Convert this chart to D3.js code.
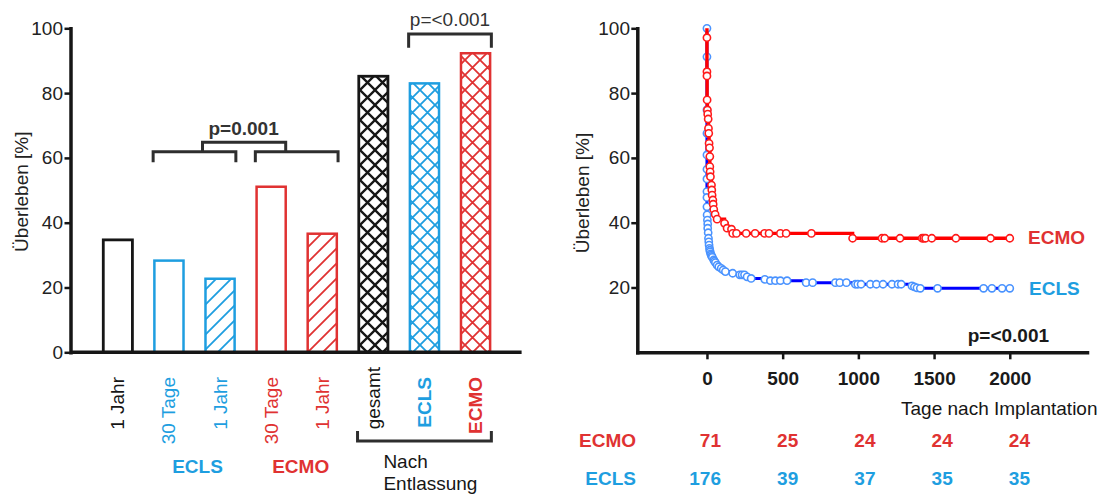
<!DOCTYPE html>
<html>
<head>
<meta charset="utf-8">
<script src="https://cdn.jsdelivr.net/npm/d3@7"></script>
<style>
  body { margin: 0; background: #fff; }
  svg { display: block; font-family: "Liberation Sans", Arial, Helvetica, sans-serif; }
</style>
</head>
<body>
<svg id="chart" width="1102" height="496"></svg>
<script>
/* ---------------------------------------------
 * DATA — left: survival bars, right: Kaplan-Meier
 * -------------------------------------------*/
const barLabels  = ['1 Jahr', '30 Tage', '1 Jahr', '30 Tage', '1 Jahr', 'gesamt', 'ECLS', 'ECMO'];
const barGroups  = ['all', 'ECLS', 'ECLS', 'ECMO', 'ECMO', 'all', 'ECLS', 'ECMO'];
const barPeriods = ['1 Jahr', '30 Tage', '1 Jahr', '30 Tage', '1 Jahr', 'Entlassung', 'Entlassung', 'Entlassung'];
const barValues  = [34.7, 28.3, 22.7, 51.1, 36.6, 85.2, 83.0, 92.3];
const yTicksLeft = [0, 20, 40, 60, 80, 100];

// [day, survival %]
const ecmoKM = [
  [0,97.1],[0,86.6],[0,85.3],[1,77.9],[3,74.8],[5,73.5],[8,72.0],[10,69.1],[12,67.6],[14,64.5],
  [17,63.1],[19,60.4],[19,57.3],[21,55.7],[23,54.2],[30,51.6],[32,50.1],[34,48.5],[39,47.0],
  [41,45.7],[45,44.1],[54,42.6],[67,41.1],[116,39.8],[133,38.3],[162,38.0],[170,36.7],[195,36.7],
  [259,36.7],[318,36.7],[380,36.7],[410,36.7],[485,36.7],[523,36.7],[690,36.7],[962,35.2],
  [1156,35.2],[1174,35.2],[1275,35.2],[1421,35.2],[1432,35.2],[1444,35.2],[1485,35.2],
  [1644,35.2],[1873,35.2],[2000,35.2]
];
const eclsKM = [
  [0,100],[0,91.2],[0,74.8],[0,67.6],[0,60.9],[0,56.5],[0,53.5],[0,49.6],[0,47.8],[0,44.9],
  [1,42.4],[3,40.8],[5,39.6],[5,38.3],[8,36.9],[10,35.2],[12,34.1],[14,33.1],[17,32.1],[19,31.5],
  [21,31.0],[25,30.4],[28,30.0],[32,29.6],[36,29.3],[45,28.5],[50,28.1],[56,27.7],[67,26.9],[78,26.4],
  [94,25.9],[107,25.4],[122,24.9],[170,24.4],[217,23.9],[232,23.9],[248,23.9],[265,23.3],[292,22.8],
  [382,22.5],[419,22.1],[452,22.1],[485,22.1],[529,22.1],[655,21.5],[698,21.5],[848,21.5],
  [877,21.5],[921,21.5],[980,21.0],[996,21.0],[1018,21.0],[1079,21.0],[1119,21.0],[1163,21.0],
  [1222,21.0],[1262,21.0],[1283,21.0],[1354,20.5],[1370,20.2],[1387,19.9],[1409,19.75],
  [1523,19.75],[1827,19.75],[1882,19.75],[1949,19.75],[2000,19.75]
];
const xTicksRight = [0, 500, 1000, 1500, 2000];
const yTicksRight = [20, 40, 60, 80, 100];
const riskTimes = [0, 500, 1000, 1500, 2000];
const riskECMO  = [71, 25, 24, 24, 24];
const riskECLS  = [176, 39, 37, 35, 35];

/* ---------------------------------------------
 * Setup
 * -------------------------------------------*/
const BLUE = '#1e9ee0', RED = '#e03232', INK = '#161616', GREY = '#2e2e2e';
const groupColor = { all: INK, ECLS: BLUE, ECMO: RED };
const FS = 19;

const svg = d3.select('#chart');
svg.append('rect').attr('width', 1102).attr('height', 496).attr('fill', '#fff');
const defs = svg.append('defs');

function makePattern(id, color, cross, w) {
  const p = defs.append('pattern').attr('id', id)
    .attr('patternUnits', 'userSpaceOnUse').attr('width', 15).attr('height', 15);
  p.append('rect').attr('width', 15).attr('height', 15).attr('fill', '#fff');
  p.append('path')
    .attr('d', cross ? 'M0,0L15,15M15,0L0,15' : 'M-2,2L2,-2M0,15L15,0M13,17L17,13')
    .attr('stroke', color).attr('stroke-width', w).attr('fill', 'none');
}
Object.entries(groupColor).forEach(([g, c]) => {
  makePattern('hatch-' + g, c, false, 1.8);
  makePattern('cross-' + g, c, true, g === 'all' ? 2.3 : 1.8);
});

function barFill(i) {
  const g = barGroups[i], p = barPeriods[i];
  if (p === 'Entlassung') return `url(#cross-${g})`;
  if (p === '1 Jahr' && g !== 'all') return `url(#hatch-${g})`;
  return '#fff';
}

/* ---------------------------------------------
 * Left panel — bars
 * -------------------------------------------*/
const yL = d3.scaleLinear().domain([0, 100]).range([352.3, 28.3]);
const xL = d3.scaleBand().domain(d3.range(barValues.length))
  .range([92.3, 501.1]).paddingInner(0.43).paddingOuter(0.215);
const bw = xL.bandwidth();
const cx = i => xL(i) + bw / 2;

svg.append('g').selectAll('rect').data(barValues).join('rect')
  .attr('x', (d, i) => xL(i))
  .attr('y', d => yL(d))
  .attr('width', bw)
  .attr('height', d => yL(0) - yL(d))
  .attr('fill', (d, i) => barFill(i))
  .attr('stroke', (d, i) => groupColor[barGroups[i]])
  .attr('stroke-width', (d, i) => barGroups[i] === 'all' ? 2.8 : 2.5);

const gyL = svg.append('g').attr('transform', 'translate(70.5,0)')
  .call(d3.axisLeft(yL).tickValues(yTicksLeft).tickSize(6).tickSizeOuter(0).tickPadding(1.5));
gyL.select('.domain').attr('stroke', INK).attr('stroke-width', 3.5).attr('stroke-linecap', 'square');
gyL.selectAll('.tick line').attr('stroke', INK).attr('stroke-width', 2.5);
gyL.selectAll('.tick text').attr('font-size', FS).attr('fill', '#222').attr('font-family', null);

svg.append('line').attr('x1', 70.5).attr('x2', 521.6).attr('y1', yL(0)).attr('y2', yL(0))
  .attr('stroke', INK).attr('stroke-width', 3.5);

svg.append('text').attr('transform', 'translate(28,191.7) rotate(-90)')
  .attr('text-anchor', 'middle').attr('font-size', FS).attr('fill', '#222')
  .text('Überleben [%]');

// rotated category labels
svg.append('g').selectAll('text').data(barLabels).join('text')
  .attr('transform', (d, i) => `translate(${cx(i) + 6.5},${i === 5 ? 367 : 377}) rotate(-90)`)
  .attr('text-anchor', 'end')
  .attr('font-size', FS)
  .attr('font-weight', (d, i) => i >= 6 ? 'bold' : null)
  .attr('fill', (d, i) => groupColor[barGroups[i]])
  .text(d => d);

// group labels
svg.append('text').attr('x', (cx(1) + cx(2)) / 2 + 3).attr('y', 473.3)
  .attr('text-anchor', 'middle').attr('font-size', FS).attr('font-weight', 'bold')
  .attr('fill', BLUE).text('ECLS');
svg.append('text').attr('x', (cx(3) + cx(4)) / 2 + 4).attr('y', 473.3)
  .attr('text-anchor', 'middle').attr('font-size', FS).attr('font-weight', 'bold')
  .attr('fill', RED).text('ECMO');

// brackets
const half = bw / 2 + 1.25;
function bracket(x1, x2, y, yLeg) {
  svg.append('path').attr('d', `M${x1},${yLeg}V${y}H${x2}V${yLeg}`)
    .attr('fill', 'none').attr('stroke', GREY).attr('stroke-width', 3);
}
bracket(cx(1) - half, cx(2) + half, 151.7, 162.3);
bracket(cx(3) - half, cx(4) + half, 151.7, 162.3);
bracket((cx(1) + cx(2)) / 2 + 8, (cx(3) + cx(4)) / 2 - 11, 142.3, 153);
svg.append('text').attr('x', ((cx(1) + cx(2)) / 2 + (cx(3) + cx(4)) / 2) / 2 - 2).attr('y', 135)
  .attr('text-anchor', 'middle').attr('font-size', FS).attr('font-weight', 'bold')
  .attr('fill', '#333').text('p=0.001');

bracket(cx(6) - half, cx(7) + half, 34, 47.7);
svg.append('text').attr('x', (cx(6) + cx(7)) / 2).attr('y', 26)
  .attr('text-anchor', 'middle').attr('font-size', FS).attr('fill', '#333').text('p=<0.001');

// "Nach Entlassung"
svg.append('path').attr('d', `M${cx(5) - half},431V441H${cx(7) + half}V431`)
  .attr('fill', 'none').attr('stroke', GREY).attr('stroke-width', 3);
svg.append('text').attr('x', 383.4).attr('y', 468.3).attr('font-size', FS).attr('fill', INK).text('Nach');
svg.append('text').attr('x', 383.4).attr('y', 490).attr('font-size', FS).attr('fill', INK).text('Entlassung');

/* ---------------------------------------------
 * Right panel — Kaplan-Meier
 * -------------------------------------------*/
const xR = d3.scaleLinear().domain([-460, 2510]).range([637.3, 1087]);
const yR = d3.scaleLinear().domain([0, 100]).range([352.3, 28.3]);

const gyR = svg.append('g').attr('transform', 'translate(637.3,0)')
  .call(d3.axisLeft(yR).tickValues(yTicksRight).tickSize(6).tickSizeOuter(0).tickPadding(1.3));
gyR.select('.domain').attr('stroke', INK).attr('stroke-width', 3.5).attr('stroke-linecap', 'square');
gyR.selectAll('.tick line').attr('stroke', INK).attr('stroke-width', 2.5);
gyR.selectAll('.tick text').attr('font-size', FS).attr('fill', '#222').attr('font-family', null);

const gxR = svg.append('g').attr('transform', `translate(0,${yR(0)})`)
  .call(d3.axisBottom(xR).tickValues(xTicksRight).tickFormat(d3.format('d'))
    .tickSize(7).tickSizeOuter(0).tickPadding(12));
gxR.select('.domain').attr('stroke', INK).attr('stroke-width', 3.5).attr('stroke-linecap', 'square');
gxR.selectAll('.tick line').attr('stroke', INK).attr('stroke-width', 2.5);
gxR.selectAll('.tick text').attr('font-size', FS).attr('font-weight', 'bold')
  .attr('fill', '#1a1a1a').attr('font-family', null);

svg.append('text').attr('transform', 'translate(589,193) rotate(-90)')
  .attr('text-anchor', 'middle').attr('font-size', FS).attr('fill', '#222')
  .text('Überleben [%]');

const line = d3.line().x(d => xR(d[0])).y(d => yR(d[1])).curve(d3.curveStepAfter);

function drawKM(data, lineColor, dotColor, lw) {
  const g = svg.append('g');
  g.append('path').datum([[0, 100]].concat(data))
    .attr('d', line).attr('fill', 'none').attr('stroke', lineColor).attr('stroke-width', lw);
  g.selectAll('circle').data(data).join('circle')
    .attr('cx', d => xR(d[0])).attr('cy', d => yR(d[1])).attr('r', 3.6)
    .attr('fill', '#fff').attr('stroke', dotColor).attr('stroke-width', 1.6);
}
drawKM(eclsKM, '#0000ff', '#4a93ff', 3);
drawKM(ecmoKM, '#ff0000', '#ff1a1a', 3.4);

svg.append('text').attr('x', 1028).attr('y', 244).attr('font-size', FS).attr('font-weight', 'bold')
  .attr('fill', RED).text('ECMO');
svg.append('text').attr('x', 1029).attr('y', 295).attr('font-size', FS).attr('font-weight', 'bold')
  .attr('fill', BLUE).text('ECLS');
svg.append('text').attr('x', 967.7).attr('y', 341.7).attr('font-size', FS).attr('font-weight', 'bold')
  .attr('fill', '#1a1a1a').text('p=<0.001');

svg.append('text').attr('x', 1097.5).attr('y', 415).attr('text-anchor', 'end')
  .attr('font-size', FS).attr('fill', INK).text('Tage nach Implantation');

// numbers at risk
const xRisk = d3.scaleLinear().domain([0, 2000]).range([721, 1030]);
const riskRows = [
  { name: 'ECMO', values: riskECMO, color: RED, y: 446.7 },
  { name: 'ECLS', values: riskECLS, color: BLUE, y: 485 }
];
riskRows.forEach(r => {
  svg.append('text').attr('x', 636).attr('y', r.y).attr('text-anchor', 'end')
    .attr('font-size', FS).attr('font-weight', 'bold').attr('fill', r.color).text(r.name);
  svg.append('g').selectAll('text').data(r.values).join('text')
    .attr('x', (d, i) => xRisk(riskTimes[i])).attr('y', r.y).attr('text-anchor', 'end')
    .attr('font-size', FS).attr('font-weight', 'bold').attr('fill', r.color).text(d => d);
});
</script>
</body>
</html>
